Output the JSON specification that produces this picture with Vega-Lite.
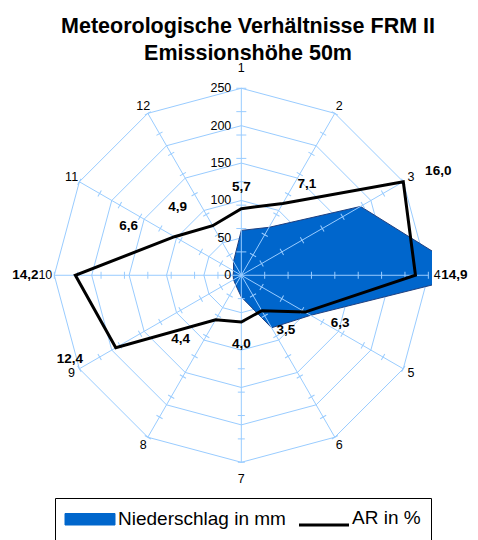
{
  "$schema": "https://vega.github.io/schema/vega-lite/v6.json",
  "width": 432,
  "height": 480,
  "autosize": {"type": "none"},
  "padding": {"left": 0, "top": 60, "right": 46, "bottom": 0},
  "background": "white",
  "config": {"view": {"stroke": null}, "font": "Liberation Sans"},
  "title": {
    "text": ["Meteorologische Verhältnisse FRM II", "Emissionshöhe 50m"],
    "font": "Liberation Sans",
    "fontSize": 21.5,
    "fontWeight": "bold",
    "color": "#000000",
    "anchor": "middle",
    "frame": "group",
    "dx": 32,
    "lineHeight": 27,
    "offset": -4
  },
  "datasets": {
    "radar": [
      {"dir": 1, "nied": 60, "ar": 5.7},
      {"dir": 2, "nied": 74, "ar": 7.1},
      {"dir": 3, "nied": 184, "ar": 16.0},
      {"dir": 4, "nied": 307, "ar": 14.9},
      {"dir": 5, "nied": 107, "ar": 6.3},
      {"dir": 6, "nied": 81, "ar": 3.5},
      {"dir": 7, "nied": 29, "ar": 4.0},
      {"dir": 8, "nied": 15, "ar": 4.4},
      {"dir": 9, "nied": 12, "ar": 12.4},
      {"dir": 10, "nied": 11, "ar": 14.2},
      {"dir": 11, "nied": 12, "ar": 6.6},
      {"dir": 12, "nied": 21, "ar": 4.9}
    ],
    "rings": [{"ring": [50, 100, 150, 200, 250], "dir": [1, 2, 3, 4, 5, 6, 7, 8, 9, 10, 11, 12]}],
    "ticks": [{"t": [31.25, 62.5, 93.75, 125, 156.25, 187.5, 218.75, 250], "dir": [1, 2, 3, 4, 5, 6, 7, 8, 9, 10, 11, 12]}],
    "dirs": [
      {"dir": 1}, {"dir": 2}, {"dir": 3}, {"dir": 4}, {"dir": 5}, {"dir": 6},
      {"dir": 7}, {"dir": 8}, {"dir": 9}, {"dir": 10}, {"dir": 11}, {"dir": 12}
    ],
    "scalelabels": [{"v": 0}, {"v": 50}, {"v": 100}, {"v": 150}, {"v": 200}, {"v": 250}]
  },
  "encoding": {
    "x": {"field": "px", "type": "quantitative", "scale": {"domain": [-322.6, 254.9], "nice": false, "zero": false}, "axis": null},
    "y": {"field": "py", "type": "quantitative", "scale": {"domain": [-353.9, 287.8], "nice": false, "zero": false}, "axis": null}
  },
  "layer": [
    {
      "data": {"name": "rings"},
      "transform": [
        {"flatten": ["ring"]},
        {"flatten": ["dir"]},
        {"calculate": "(datum.dir - 1) * PI / 6", "as": "th"},
        {"calculate": "datum.ring * sin(datum.th)", "as": "px"},
        {"calculate": "datum.ring * cos(datum.th)", "as": "py"}
      ],
      "mark": {"type": "line", "interpolate": "linear-closed", "stroke": "#99CCFF", "strokeWidth": 1},
      "encoding": {
        "detail": {"field": "ring", "type": "nominal"},
        "order": {"field": "dir", "type": "quantitative"}
      }
    },
    {
      "data": {"name": "radar"},
      "transform": [
        {"calculate": "(datum.dir - 1) * PI / 6", "as": "th"},
        {"calculate": "datum.nied * sin(datum.th)", "as": "px"},
        {"calculate": "datum.nied * cos(datum.th)", "as": "py"}
      ],
      "mark": {"type": "line", "filled": true, "interpolate": "linear-closed", "clip": true, "stroke": "#1F3F7F", "strokeWidth": 1, "strokeJoin": "miter", "fillOpacity": 1},
      "encoding": {
        "order": {"field": "dir", "type": "quantitative"},
        "color": {
          "datum": "Niederschlag in mm",
          "type": "nominal",
          "scale": {"domain": ["Niederschlag in mm", "AR in %"], "range": ["#0066CC", "#000000"]},
          "legend": {
            "orient": "none",
            "legendX": 55,
            "legendY": 438,
            "direction": "horizontal",
            "title": null,
            "strokeColor": "#000000",
            "fillColor": "#ffffff",
            "padding": 10,
            "labelFont": "Liberation Sans",
            "labelFontSize": 19,
            "labelColor": "#000000",
            "labelLimit": 400,
            "labelOffset": 34,
            "columnPadding": 7,
            "symbolSize": 121,
            "labelExpr": "datum.label == 'AR in %' ? datum.label + '\u00a0\u00a0\u00a0\u00a0\u00a0\u00a0' : datum.label",
            "encoding": {
              "symbols": {
                "shape": {"value": {"expr": "datum.value == 'AR in %' ? 'M-0.38,0.3L1.62,0.3' : 'M-0.38,-0.23L1.62,-0.23L1.62,0.23L-0.38,0.23Z'"}},
                "fill": {"value": {"expr": "datum.value == 'AR in %' ? 'transparent' : '#0066CC'"}},
                "stroke": {"value": {"expr": "datum.value == 'AR in %' ? '#000000' : '#1F3F7F'"}},
                "strokeWidth": {"value": {"expr": "datum.value == 'AR in %' ? 3 : 1"}},
                "size": {"value": 2500},
                "opacity": {"value": 1}
              }
            }
          }
        }
      }
    },
    {
      "data": {"name": "dirs"},
      "transform": [
        {"calculate": "(datum.dir - 1) * PI / 6", "as": "th"},
        {"calculate": "0", "as": "px"},
        {"calculate": "0", "as": "py"},
        {"calculate": "250 * sin(datum.th)", "as": "ex"},
        {"calculate": "250 * cos(datum.th)", "as": "ey"}
      ],
      "mark": {"type": "rule", "stroke": "#99CCFF", "strokeWidth": 1},
      "encoding": {
        "x2": {"field": "ex"},
        "y2": {"field": "ey"}
      }
    },
    {
      "data": {"name": "ticks"},
      "transform": [
        {"flatten": ["t"]},
        {"flatten": ["dir"]},
        {"calculate": "(datum.dir - 1) * PI / 6", "as": "th"},
        {"calculate": "(datum.dir - 1) * 30", "as": "ang"},
        {"calculate": "datum.t * sin(datum.th)", "as": "px"},
        {"calculate": "datum.t * cos(datum.th)", "as": "py"}
      ],
      "mark": {"type": "point", "shape": "M-1,0L1,0", "filled": false, "stroke": "#99CCFF", "strokeWidth": 1, "opacity": 1},
      "encoding": {
        "angle": {"field": "ang", "type": "quantitative", "scale": null},
        "size": {"condition": {"test": "datum.dir == 1", "value": 100}, "value": 49}
      }
    },
    {
      "data": {"name": "radar"},
      "transform": [
        {"calculate": "(datum.dir - 1) * PI / 6", "as": "th"},
        {"calculate": "datum.ar * 250 / 16 * sin(datum.th)", "as": "px"},
        {"calculate": "datum.ar * 250 / 16 * cos(datum.th)", "as": "py"}
      ],
      "mark": {"type": "line", "interpolate": "linear-closed", "strokeWidth": 3, "strokeJoin": "miter"},
      "encoding": {
        "order": {"field": "dir", "type": "quantitative"},
        "color": {"datum": "AR in %", "type": "nominal"}
      }
    },
    {
      "data": {"name": "scalelabels"},
      "transform": [
        {"calculate": "0", "as": "px"},
        {"calculate": "datum.v", "as": "py"}
      ],
      "mark": {"type": "text", "align": "right", "baseline": "middle", "dx": -10, "fontSize": 12.5, "font": "Liberation Sans", "color": "#000000"},
      "encoding": {"text": {"field": "v", "type": "nominal"}}
    },
    {
      "data": {"name": "dirs"},
      "transform": [
        {"calculate": "(datum.dir - 1) * PI / 6", "as": "th"},
        {"calculate": "datum.dir == 1 ? 277 : (datum.dir == 7 ? 272 : 262)", "as": "rl"},
        {"calculate": "datum.rl * sin(datum.th)", "as": "px"},
        {"calculate": "datum.rl * cos(datum.th)", "as": "py"}
      ],
      "mark": {"type": "text", "align": "center", "baseline": "middle", "fontSize": 12.5, "font": "Liberation Sans", "color": "#000000"},
      "encoding": {"text": {"field": "dir", "type": "nominal"}}
    },
    {
      "data": {"name": "radar"},
      "transform": [
        {"calculate": "(datum.dir - 1) * PI / 6", "as": "th"},
        {"calculate": "sin(datum.th)", "as": "s"},
        {"calculate": "cos(datum.th)", "as": "c"},
        {"calculate": "datum.ar * 250 / 16", "as": "rr"},
        {"calculate": "datum.rr * datum.s + (30 * datum.s + (datum.s > 0.01 ? 9 : (datum.s < -0.01 ? -20 : 0))) / 0.748", "as": "px"},
        {"calculate": "datum.rr * datum.c + 22 * datum.c / 0.748", "as": "py"},
        {"calculate": "replace(format(datum.ar, '.1f'), '.', ',')", "as": "lab"}
      ],
      "mark": {"type": "text", "align": "center", "baseline": "middle", "fontSize": 13.5, "fontWeight": "bold", "font": "Liberation Sans", "color": "#000000"},
      "encoding": {"text": {"field": "lab", "type": "nominal"}}
    }
  ]
}
